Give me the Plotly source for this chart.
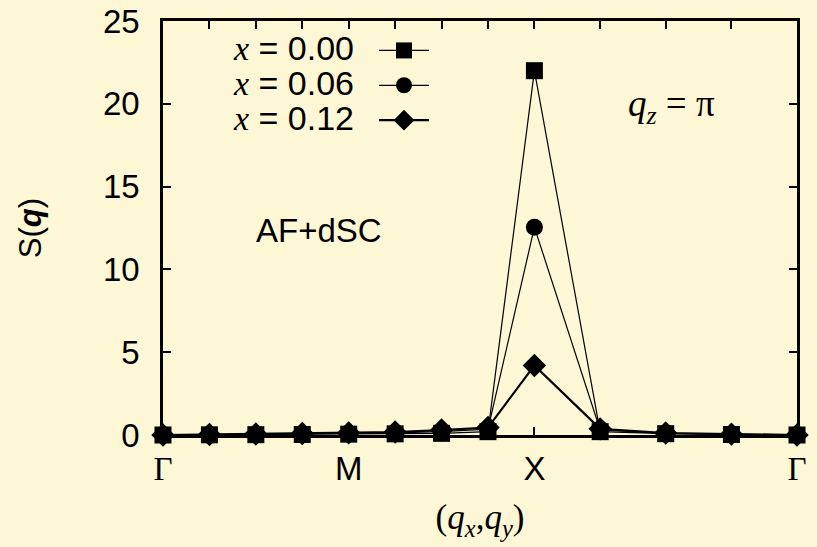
import plotly.graph_objects as go

# path coordinate along Gamma-M-X-Gamma
q_path = [0.0, 0.25, 0.5, 0.75, 1.0, 1.25, 1.5, 1.75, 2.0, 2.354, 2.707, 3.061, 3.414]
tick_labels = ["Γ", "", "", "", "M", "", "", "", "X", "", "", "", "Γ"]

series_names = ["0.00", "0.06", "0.12"]
s_x000 = [0.0, 0.01, 0.02, 0.03, 0.05, 0.07, 0.10, 0.20, 22.0, 0.20, 0.08, 0.03, 0.0]
s_x006 = [0.0, 0.02, 0.04, 0.06, 0.09, 0.13, 0.20, 0.35, 12.55, 0.30, 0.10, 0.04, 0.0]
s_x012 = [0.0, 0.03, 0.06, 0.09, 0.13, 0.18, 0.30, 0.45, 4.2, 0.37, 0.12, 0.05, 0.0]

y_ticks = [0, 5, 10, 15, 20, 25]

BG = "#FEF7D6"
SANS = "Liberation Sans"
SERIF = "Liberation Serif"

def serif(t):
    return '<span style="font-family:%s">%s</span>' % (SERIF, t)

ticktext = [serif(t) if t == "Γ" else t for t in tick_labels]

fig = go.Figure()
styles = [
    (s_x000, "square", 17, 1.2),
    (s_x006, "circle", 17, 1.2),
    (s_x012, "diamond", 18, 2.2),
]
for (vals, sym, size, lw) in styles:
    fig.add_trace(go.Scatter(
        x=q_path, y=vals, mode="lines+markers", name=" ",
        line=dict(color="black", width=lw),
        marker=dict(symbol=sym, size=size, color="black"),
        cliponaxis=False,
    ))

L, R, T, B = 163, 20, 21, 112
W, H = 817, 547
pw, ph = W - L - R, H - T - B

def px(x):
    return (x - L) / pw

def py(y):
    return (H - B - y) / ph

# legend labels (text left of the keys)
for i, n in enumerate(series_names):
    fig.add_annotation(
        xref="paper", yref="paper", x=px(356), y=py(48 + 35 * i),
        xanchor="right", yanchor="middle", showarrow=False,
        text=serif("<i>x</i>") + " = " + n,
        font=dict(family=SANS, size=34, color="black"),
    )

fig.add_annotation(xref="paper", yref="paper", x=px(319), y=py(230),
                   xanchor="center", yanchor="middle",
                   text="AF+dSC", showarrow=False,
                   font=dict(family=SANS, size=33, color="black"))
fig.add_annotation(xref="paper", yref="paper", x=px(626), y=py(106),
                   xanchor="left", yanchor="middle",
                   text="<i>q</i><sub><i>z</i></sub> = π", showarrow=False,
                   font=dict(family=SERIF, size=37, color="black"))

axis_common = dict(
    showline=True, linecolor="black", linewidth=2.5, mirror="ticks",
    ticks="inside", ticklen=8, tickwidth=1.5, tickcolor="black",
    showgrid=False, zeroline=False, automargin=False,
    tickfont=dict(family=SANS, size=33, color="black"),
)

fig.update_xaxes(
    range=[q_path[0], q_path[-1]],
    tickmode="array", tickvals=q_path, ticktext=ticktext,
    ticklabelstandoff=3,
    title=dict(text="(<i>q</i><sub><i>x</i></sub>,<i>q</i><sub><i>y</i></sub>)",
               font=dict(family=SERIF, size=35, color="black"), standoff=19),
    **axis_common,
)
fig.update_yaxes(
    range=[0, 25], tickmode="array", tickvals=y_ticks,
    ticklabelstandoff=14,
    title=dict(text="S(<b><i>q</i></b>)",
               font=dict(family=SANS, size=31, color="black"), standoff=53),
    **axis_common,
)

fig.update_layout(
    width=W, height=H,
    margin=dict(l=L, r=R, t=T, b=B),
    paper_bgcolor=BG, plot_bgcolor=BG,
    showlegend=True,
    legend=dict(x=px(374), y=py(28), xanchor="left", yanchor="top",
                bgcolor="rgba(0,0,0,0)", borderwidth=0,
                font=dict(family=SANS, size=24.5, color="black"),
                itemwidth=50, tracegroupgap=0),
)

fig.write_html("out.html", config={"displayModeBar": False},
               post_script="document.body.style.margin='0';")
